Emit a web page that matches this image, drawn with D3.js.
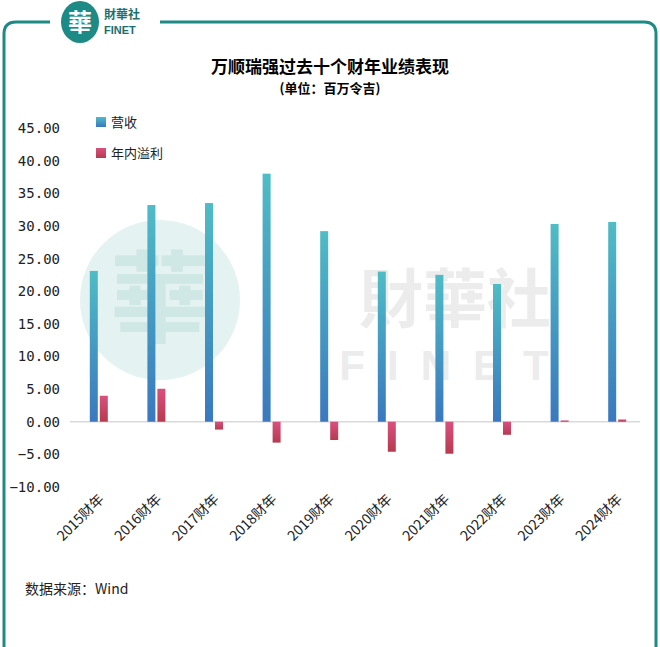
<!DOCTYPE html>
<html><head><meta charset="utf-8">
<script src="https://cdn.jsdelivr.net/npm/d3@7"></script>
<style>body{margin:0;background:#fff}svg{display:block}</style>
</head><body><div id="chart"></div>
<script>
const years = ["2015财年","2016财年","2017财年","2018财年","2019财年","2020财年","2021财年","2022财年","2023财年","2024财年"];
const revenue = [23.1, 33.2, 33.5, 38.0, 29.2, 23.0, 22.5, 21.1, 30.3, 30.6];
const profit = [3.98, 5.05, -1.2, -3.2, -2.8, -4.6, -4.9, -2.0, 0.2, 0.35];
const yTicks = [-10, -5, 0, 5, 10, 15, 20, 25, 30, 35, 40, 45];

const svg = d3.select("#chart").append("svg").attr("width", 660).attr("height", 647);
const defs = svg.append("defs");
const g1 = defs.append("linearGradient").attr("id", "gRev").attr("x1", 0).attr("y1", 0).attr("x2", 0).attr("y2", 1);
g1.append("stop").attr("offset", "0%").attr("stop-color", "#4fbcc6");
g1.append("stop").attr("offset", "100%").attr("stop-color", "#3a78bf");
const g2 = defs.append("linearGradient").attr("id", "gPro").attr("x1", 0).attr("y1", 0).attr("x2", 0).attr("y2", 1);
g2.append("stop").attr("offset", "0%").attr("stop-color", "#d9507e");
g2.append("stop").attr("offset", "100%").attr("stop-color", "#b73a50");

// frame
svg.append("path").attr("fill", "none").attr("stroke", "#1d8a85").attr("stroke-width", 3)
  .attr("d", "M50,22 L16,22 Q4,22 4,34 L4,647 M160,22 L644,22 Q656,22 656,34 L656,647");
svg.append("ellipse").attr("cx", 80).attr("cy", 22).attr("rx", 19).attr("ry", 21).attr("fill", "#1d8a85");
svg.append("text").attr("x", 80).attr("y", 31).attr("text-anchor", "middle").attr("fill", "#fff")
  .style("font", "bold 24px 'Noto Sans CJK TC'").text("華");
svg.append("text").attr("x", 104).attr("y", 19).attr("fill", "#1d6f6c").style("font", "bold 12px 'Noto Sans CJK TC'").text("財華社");
svg.append("text").attr("x", 104).attr("y", 34).attr("fill", "#1d6f6c").style("font", "bold 11px 'Liberation Sans'").text("FINET");

// watermark
svg.append("circle").attr("cx", 160).attr("cy", 300).attr("r", 80).attr("fill", "#e4f2f1");
svg.append("text").attr("x", 160).attr("y", 335).attr("text-anchor", "middle").attr("fill", "#cfe7e5").style("font", "bold 100px 'Noto Sans CJK TC'").text("華");
svg.append("text").attr("x", 455).attr("y", 322).attr("text-anchor", "middle").attr("fill", "#ececec").style("font", "bold 64px 'Noto Sans CJK TC'").text("財華社");
svg.append("text").attr("x", 455).attr("y", 380).attr("text-anchor", "middle").attr("fill", "#ececec").attr("letter-spacing", 22).style("font", "bold 42px 'Liberation Sans'").text("FINET");

svg.append("text").attr("x", 330).attr("y", 73).attr("text-anchor", "middle").style("font", "bold 17px 'Noto Sans CJK SC'").text("万顺瑞强过去十个财年业绩表现");
svg.append("text").attr("x", 330).attr("y", 93).attr("text-anchor", "middle").style("font", "bold 13px 'Noto Sans CJK SC'").text("(单位：百万令吉)");

const y = d3.scaleLinear().domain([-10, 45]).range([487, 128]);
const x = d3.scaleBand().domain(years).range([70, 646]);

svg.append("g").selectAll("text").data(yTicks).join("text")
  .attr("x", 60).attr("y", d => y(d) + 5).attr("text-anchor", "end")
  .style("font", "14px 'DejaVu Sans Mono'").attr("fill", "#222")
  .text(d => d3.format(".2f")(d));

svg.append("line").attr("x1", 70).attr("x2", 640).attr("y1", y(0)).attr("y2", y(0)).attr("stroke", "#d9d9d9").attr("stroke-width", 1.5);

const cx = d => x(d) + x.bandwidth() / 2;
svg.append("g").selectAll("rect").data(years).join("rect")
  .attr("x", (d) => cx(d) - 9).attr("width", 8)
  .attr("y", (d, i) => y(revenue[i])).attr("height", (d, i) => y(0) - y(revenue[i]))
  .attr("fill", "url(#gRev)");
svg.append("g").selectAll("rect").data(years).join("rect")
  .attr("x", (d) => cx(d) + 1).attr("width", 8)
  .attr("y", (d, i) => y(Math.max(0, profit[i]))).attr("height", (d, i) => Math.abs(y(0) - y(profit[i])))
  .attr("fill", "url(#gPro)");

svg.append("g").selectAll("text").data(years).join("text")
  .attr("transform", d => `translate(${cx(d) + 6},${500}) rotate(-45)`)
  .attr("text-anchor", "end").style("font", "14px 'Noto Sans CJK SC'").attr("fill", "#222").text(d => d);

const leg = [["营收", "url(#gRev)"], ["年内溢利", "url(#gPro)"]];
leg.forEach((l, i) => {
  svg.append("rect").attr("x", 96).attr("y", 117 + i * 31).attr("width", 10).attr("height", 10).attr("fill", l[1]);
  svg.append("text").attr("x", 111).attr("y", 127 + i * 31).style("font", "13px 'Noto Sans CJK SC'").attr("fill", "#222").text(l[0]);
});

svg.append("text").attr("x", 25).attr("y", 594).style("font", "14px 'Noto Sans CJK SC'").attr("fill", "#222").text("数据来源：Wind");
</script></body></html>
